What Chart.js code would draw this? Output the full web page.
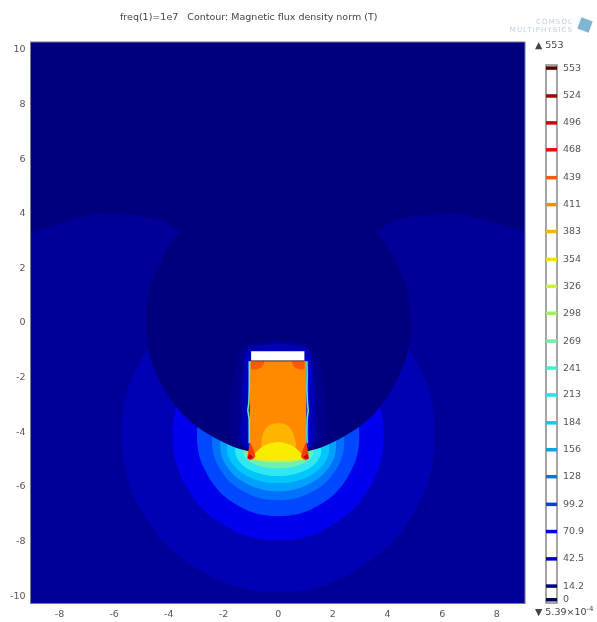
<!DOCTYPE html>
<html>
<head>
<meta charset="utf-8">
<title>Magnetic flux density norm</title>
<script src="https://cdn.jsdelivr.net/npm/chart.js@4"></script>
<style>
  html, body { margin: 0; padding: 0; background: #fff; }
  #page { position: relative; width: 597px; height: 622px; overflow: hidden; filter: blur(0.6px); font-family: "DejaVu Sans", sans-serif; color: #444; }
  #mainBox { position: absolute; left: 0; top: 0; width: 597px; height: 622px; }
  #barBox { position: absolute; left: 530px; top: 0; width: 67px; height: 622px; }
  .label { position: absolute; font-size: 9.5px; white-space: pre; line-height: 10px; }
  .label sup { font-size: 7px; line-height: 0; }
  .logo { position: absolute; font-size: 7px; line-height: 8px; color: #bcd0e0; letter-spacing: 1.1px; text-align: right; }
  .cube { position: absolute; left: 579px; top: 19px; width: 12px; height: 12px; background: #7fb4d2; transform: rotate(20deg); }
</style>
</head>
<body>
<div id="page">
  <div id="mainBox"><canvas id="mainChart" width="597" height="622"></canvas></div>
  <div id="barBox"><canvas id="barChart" width="67" height="622"></canvas></div>
  <div class="label" style="left:120px;top:12px">freq(1)=1e7   Contour: Magnetic flux density norm (T)</div>
  <div class="logo" style="left:490px;top:18px;width:83px">COMSOL<br>MULTIPHYSICS</div>
  <div class="cube"></div>
  <div class="label" style="left:535px;top:40px">▲ 553</div>
  <div class="label" style="left:535px;top:607px">▼ 5.39×10<sup>-4</sup></div>
</div>
<script>
const xTicks = [-8, -6, -4, -2, 0, 2, 4, 6, 8];
const yTicks = [-10, -8, -6, -4, -2, 0, 2, 4, 6, 8, 10];
const levels = [553, 524, 496, 468, 439, 411, 383, 354, 326, 298, 269, 241, 213, 184, 156, 128, 99.2, 70.9, 42.5, 14.2, 0];
const levelColors = ["#5c0000", "#a00000", "#d40000", "#f00a0a", "#ff5a10", "#ff8a00", "#ffb400", "#f6e000", "#cdf03c", "#a0f064", "#70f0a0", "#40f0d0", "#20e4f0", "#10c8f0", "#10a0e8", "#0870e8", "#0040e0", "#0000e0", "#0000b8", "#000080", "#00005f"];

// contour outlines, in axis units
const lobes = [[-9.08, 3.3], [-7.88, 3.7], [-6.63, 3.99], [-5.42, 3.96], [-4.21, 3.77], [-3.7, 3.41], [0, 2], [3.7, 3.41], [4.21, 3.77], [5.42, 3.96], [6.63, 3.99], [7.88, 3.7], [9.08, 3.3], [9.08, -10.3], [-9.08, -10.3], [-9.08, 3.3]];
const band1 = [[0, 1.62], [-2.86, 0.85], [-4.95, -1.24], [-5.72, -4.1], [-4.95, -6.96], [-2.86, -9.05], [0, -9.85], [2.86, -9.05], [4.95, -6.96], [5.72, -4.1], [4.95, -1.24], [2.86, 0.85], [0, 1.62]];
const band2 = [[0, -0.23], [-1.93, -0.75], [-3.34, -2.16], [-3.86, -4.09], [-3.34, -6.02], [-1.93, -7.43], [0, -7.95], [1.93, -7.43], [3.34, -6.02], [3.86, -4.09], [3.34, -2.16], [1.93, -0.75], [0, -0.23]];
const band3 = [[0, -1.13], [-1.49, -1.53], [-2.57, -2.61], [-2.97, -4.1], [-2.57, -5.59], [-1.49, -6.67], [0, -7.07], [1.49, -6.67], [2.57, -5.59], [2.97, -4.1], [2.57, -2.61], [1.49, -1.53], [0, -1.13]];
const band4 = [[0, -2.09], [-1.21, -2.38], [-2.1, -3.19], [-2.42, -4.29], [-2.1, -5.39], [-1.21, -6.2], [0, -6.49], [1.21, -6.2], [2.1, -5.39], [2.42, -4.29], [2.1, -3.19], [1.21, -2.38], [0, -2.09]];
const band5 = [[0, -2.78], [-1.06, -3.01], [-1.84, -3.63], [-2.12, -4.47], [-1.84, -5.31], [-1.06, -5.93], [0, -6.16], [1.06, -5.93], [1.84, -5.31], [2.12, -4.47], [1.84, -3.63], [1.06, -3.01], [0, -2.78]];
const band6 = [[0, -3.3], [-0.94, -3.47], [-1.62, -3.94], [-1.87, -4.58], [-1.62, -5.22], [-0.94, -5.69], [0, -5.86], [0.94, -5.69], [1.62, -5.22], [1.87, -4.58], [1.62, -3.94], [0.94, -3.47], [0, -3.3]];
const band7 = [[0, -3.7], [-0.79, -3.83], [-1.37, -4.17], [-1.58, -4.65], [-1.37, -5.13], [-0.79, -5.47], [0, -5.6], [0.79, -5.47], [1.37, -5.13], [1.58, -4.65], [1.37, -4.17], [0.79, -3.83], [0, -3.7]];
const band8 = [[0, -4.14], [-0.64, -4.22], [-1.11, -4.44], [-1.28, -4.73], [-1.11, -5.02], [-0.64, -5.24], [0, -5.32], [0.64, -5.24], [1.11, -5.02], [1.28, -4.73], [1.11, -4.44], [0.64, -4.22], [0, -4.14]];
const band9 = [[0, -4.58], [-0.53, -4.61], [-0.92, -4.71], [-1.06, -4.84], [-0.92, -4.97], [-0.53, -5.07], [0, -5.1], [0.53, -5.07], [0.92, -4.97], [1.06, -4.84], [0.92, -4.71], [0.53, -4.61], [0, -4.58]];
const disc = [[0, 4.88], [-2.42, 4.23], [-4.19, 2.46], [-4.84, 0.04], [-4.19, -2.38], [-2.42, -4.15], [0, -4.8], [2.42, -4.15], [4.19, -2.38], [4.84, 0.04], [4.19, 2.46], [2.42, 4.23], [0, 4.88]];
const haloOuter = [[0, -0.6], [-1.2, -0.85], [-1.65, -2], [-1.75, -3.2], [-1.6, -4.4], [0, -4.4], [1.6, -4.4], [1.75, -3.2], [1.65, -2], [1.2, -0.85], [0, -0.6]];
const haloInner = [[0, -0.75], [-1.1, -0.95], [-1.3, -2], [-1.35, -3.2], [-1.25, -4.5], [0, -4.5], [1.25, -4.5], [1.35, -3.2], [1.3, -2], [1.1, -0.95], [0, -0.75]];
const haloCore = [[-1.11, -1.4], [-1.11, -4.55], [1.13, -4.55], [1.13, -1.4], [-1.11, -1.4]];
const column = [[-1.04, -1.39], [1.03, -1.39], [1.03, -4.95], [-1.04, -4.95], [-1.04, -1.39]];
const moundOrange = [[-0.62, -4.58], [-0.57, -4.1], [-0.37, -3.77], [0, -3.66], [0.37, -3.77], [0.57, -4.1], [0.62, -4.58], [0, -4.8], [-0.62, -4.58]];
const moundYellow = [[-0.95, -4.97], [-0.8, -4.72], [-0.46, -4.47], [0, -4.36], [0.46, -4.47], [0.8, -4.72], [0.95, -4.97], [0, -5], [-0.95, -4.97]];
const footLeft = [[-1.03, -4.36], [-0.9, -4.65], [-0.84, -4.91], [-0.99, -5.02], [-1.12, -4.95], [-1.03, -4.36]];
const footRight = [[1.03, -4.36], [0.9, -4.65], [0.84, -4.91], [0.99, -5.02], [1.12, -4.95], [1.03, -4.36]];
const footLeftDark = [[-1.06, -4.8], [-0.92, -4.91], [-1.03, -4.98], [-1.12, -4.95], [-1.06, -4.8]];
const footRightDark = [[1.06, -4.8], [0.92, -4.91], [1.03, -4.98], [1.12, -4.95], [1.06, -4.8]];
const blobLeft = [[-0.99, -1.4], [-0.51, -1.4], [-0.59, -1.61], [-0.81, -1.7], [-0.99, -1.68], [-0.99, -1.4]];
const blobRight = [[0.96, -1.4], [0.51, -1.4], [0.59, -1.61], [0.81, -1.7], [0.96, -1.68], [0.96, -1.4]];
const plate = [[-0.99, -1.03], [0.96, -1.03], [0.96, -1.38], [-0.99, -1.38], [-0.99, -1.03]];
const sideLeft = [[-1.05, -1.4], [-1.06, -1.9], [-1.05, -2.4], [-1.07, -2.9], [-1.11, -3.2], [-1.06, -3.5], [-1.05, -4], [-1.06, -4.4]];
const sideRight = [[1.05, -1.4], [1.06, -1.9], [1.05, -2.4], [1.07, -2.9], [1.1, -3.2], [1.06, -3.5], [1.05, -4], [1.06, -4.4]];
const plateEdge = [[-0.99, -1.39], [0.96, -1.39]];

const toPts = (arr) => arr.map((p) => ({ x: p[0], y: p[1] }));
const shape = (arr, color, tension) => ({ data: toPts(arr), showLine: true, fill: "shape", backgroundColor: color, borderWidth: 0, pointRadius: 0, tension: tension || 0 });
const stroke = (arr, color, width) => ({ data: toPts(arr), showLine: true, fill: false, borderColor: color, borderWidth: width, pointRadius: 0 });

const plotFrame = {
  id: "plotFrame",
  beforeDatasetsDraw(chart) {
    const { ctx, chartArea: a } = chart;
    ctx.save();
    ctx.fillStyle = "#00007e";
    ctx.fillRect(a.left, a.top, a.width, a.height);
    ctx.restore();
  },
  afterDatasetsDraw(chart) {
    const { ctx, chartArea: a } = chart;
    ctx.save();
    ctx.strokeStyle = "#77779a";
    ctx.lineWidth = 1;
    ctx.strokeRect(a.left, a.top, a.width, a.height);
    ctx.restore();
  },
};

// Chart.js paints the first dataset last, so the list goes top layer first
new Chart(document.getElementById("mainChart"), {
  type: "scatter",
  plugins: [plotFrame],
  data: {
    datasets: [
      stroke(plateEdge, "#6b3a20", 1),
      shape(plate, "#ffffff"),
      shape(blobRight, "#ff5a00", 0.2),
      shape(blobLeft, "#ff5a00", 0.2),
      shape(footRightDark, "#b40000", 0.2),
      shape(footLeftDark, "#b40000", 0.2),
      shape(footRight, "#ff3c00", 0.2),
      shape(footLeft, "#ff3c00", 0.2),
      shape(moundYellow, "#f8ec00", 0.3),
      shape(moundOrange, "#ffb400", 0.3),
      stroke(sideRight, "#60e8b0", 1.6),
      stroke(sideLeft, "#60e8b0", 1.6),
      shape(column, "#ff8a00"),
      shape(haloCore, "#0010e8"),
      shape(haloInner, "#0000b8", 0.3),
      shape(haloOuter, "#00008c", 0.3),
      shape(disc, "#00007e", 0.4),
      shape(band9, "#d0f040", 0.4),
      shape(band8, "#70f0b0", 0.4),
      shape(band7, "#30e8f0", 0.4),
      shape(band6, "#00c8ff", 0.4),
      shape(band5, "#00a0ff", 0.4),
      shape(band4, "#0070ff", 0.4),
      shape(band3, "#0048ff", 0.4),
      shape(band2, "#0000ee", 0.4),
      shape(band1, "#0000b4", 0.4),
      shape(lobes, "#000098"),
    ],
  },
  options: {
    responsive: false,
    animation: false,
    layout: { padding: { top: 42, right: 72, left: 0, bottom: 0 } },
    plugins: { legend: { display: false }, tooltip: { enabled: false } },
    scales: {
      x: {
        type: "linear", min: -9.06, max: 9.03,
        grid: { display: false, drawTicks: false }, border: { display: false },
        afterBuildTicks: (s) => { s.ticks = xTicks.map((v) => ({ value: v })); },
        afterFit: (s) => { s.height = 18.5; },
        ticks: { color: "#555", font: { family: "DejaVu Sans", size: 9.5 }, padding: 5, maxRotation: 0, callback: (v) => String(v) },
      },
      y: {
        type: "linear", min: -10.27, max: 10.29,
        grid: { display: false, drawTicks: false }, border: { display: false },
        afterBuildTicks: (s) => { s.ticks = yTicks.map((v) => ({ value: v })); },
        afterFit: (s) => { s.width = 30.5; },
        ticks: { color: "#555", font: { family: "DejaVu Sans", size: 9.5 }, padding: 5, callback: (v) => String(v) },
      },
    },
  },
});

const barFrame = {
  id: "barFrame",
  beforeDatasetsDraw(chart) {
    const { ctx, chartArea: a } = chart;
    ctx.save();
    ctx.fillStyle = "#fff";
    ctx.fillRect(a.left, a.top, a.width, a.height);
    ctx.strokeStyle = "#888";
    ctx.lineWidth = 1.5;
    ctx.strokeRect(a.left, a.top, a.width, a.height);
    ctx.restore();
  },
};

new Chart(document.getElementById("barChart"), {
  type: "scatter",
  plugins: [barFrame],
  data: {
    datasets: levels.map((v, i) => stroke([[0, v], [1, v]], levelColors[i], 3.5)),
  },
  options: {
    responsive: false,
    animation: false,
    layout: { padding: { top: 65, left: 16, right: 0, bottom: 19 } },
    plugins: { legend: { display: false }, tooltip: { enabled: false } },
    scales: {
      x: { type: "linear", min: 0, max: 1, display: false },
      y: {
        type: "linear", position: "right", min: -3.4, max: 556.2,
        grid: { display: false, drawTicks: false }, border: { display: false },
        afterBuildTicks: (s) => { s.ticks = levels.map((v) => ({ value: v })); },
        afterFit: (s) => { s.width = 40; },
        ticks: { color: "#555", font: { family: "DejaVu Sans", size: 9.5 }, padding: 6, autoSkip: false, callback: (v) => String(v) },
      },
    },
  },
});
</script>
</body>
</html>
